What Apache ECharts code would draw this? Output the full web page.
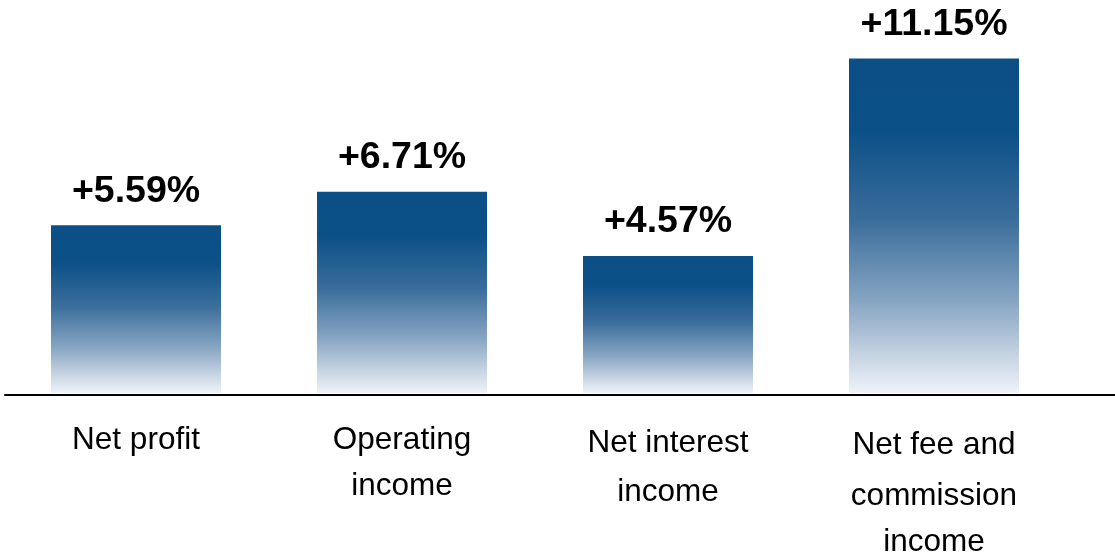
<!DOCTYPE html>
<html>
<head>
<meta charset="utf-8">
<script src="https://cdn.jsdelivr.net/npm/echarts@6/dist/echarts.min.js"></script>
<style>
  html, body { margin: 0; padding: 0; background: #ffffff; }
  #chart { width: 1115px; height: 552px; }
</style>
</head>
<body>
<div id="chart"></div>
<script>
// Year-on-year growth by income line
const categories = ['Net profit', 'Operating\nincome', 'Net interest\nincome', 'Net fee and\ncommission\nincome'];
const growth = [5.59, 6.71, 4.57, 11.15];

const FONT = '"Liberation Sans", Arial, Helvetica, sans-serif';

// Bars fade from deep navy at the top to almost white at the base
const barFill = new echarts.graphic.LinearGradient(0, 0, 0, 1, [
  { offset: 0.00, color: '#0b4f86' },
  { offset: 0.22, color: '#0c5088' },
  { offset: 0.48, color: '#3a6d9b' },
  { offset: 0.73, color: '#88a6c3' },
  { offset: 0.88, color: '#c3d1e1' },
  { offset: 1.00, color: '#eff3f9' }
]);

// First-line heights per category label (fine vertical placement)
const firstLineHeights = [46, 46, 52, 56];
const LABEL_SIZE = 31.5;
const rich = { b: { lineHeight: 46, fontSize: LABEL_SIZE, fontFamily: FONT, color: '#000' } };
firstLineHeights.forEach((lh, i) => {
  rich['h' + i] = { lineHeight: lh, fontSize: LABEL_SIZE, fontFamily: FONT, color: '#000' };
});

const chart = echarts.init(document.getElementById('chart'), null, { renderer: 'canvas' });

chart.setOption({
  animation: false,
  backgroundColor: '#ffffff',
  grid: [
    { left: 3, right: 48, top: 33, bottom: 159, containLabel: false, outerBoundsMode: 'none' },
    { left: 5, right: 0, top: 33, bottom: 157, containLabel: false, outerBoundsMode: 'none' }
  ],
  xAxis: [
    {
      type: 'category',
      gridIndex: 0,
      data: categories,
      axisLine: { show: false },
      axisTick: { show: false },
      axisLabel: {
        margin: 24,
        interval: 0,
        align: 'center',
        formatter: function (value, index) {
          const lines = value.split('\n');
          return lines.map((t, k) => '{' + (k === 0 ? 'h' + index : 'b') + '|' + t + '}').join('\n');
        },
        rich: rich
      }
    },
    {
      type: 'category',
      gridIndex: 1,
      data: [''],
      z: 5,
      axisLine: { show: true, lineStyle: { color: '#000000', width: 2 } },
      axisTick: { show: false },
      axisLabel: { show: false }
    }
  ],
  yAxis: [
    { type: 'value', gridIndex: 0, min: 0, max: 12, show: false, splitLine: { show: false } },
    { type: 'value', gridIndex: 1, min: 0, max: 1, show: false, splitLine: { show: false } }
  ],
  series: [
    {
      type: 'bar',
      xAxisIndex: 0,
      yAxisIndex: 0,
      data: growth,
      barWidth: 170,
      itemStyle: { color: barFill },
      label: {
        show: true,
        position: 'top',
        distance: 15,
        color: '#000000',
        fontFamily: FONT,
        fontWeight: 'bold',
        fontSize: 37.5,
        formatter: p => '+' + p.value.toFixed(2) + '%'
      }
    }
  ]
});
</script>
</body>
</html>
